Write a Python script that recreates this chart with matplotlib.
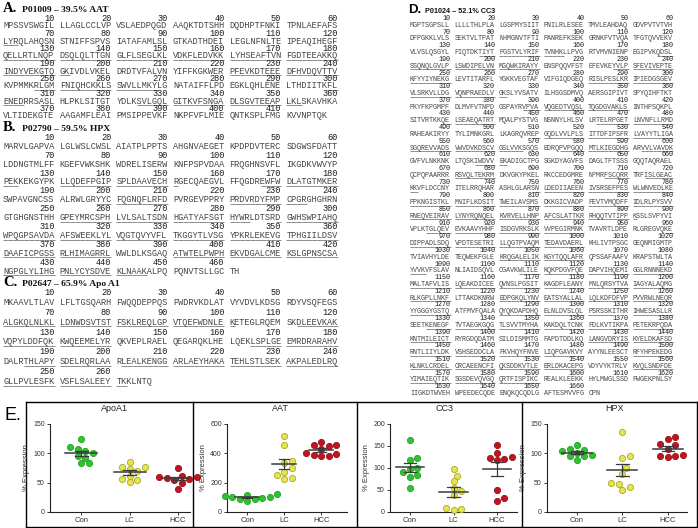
import matplotlib
matplotlib.use('Agg')
import matplotlib.pyplot as plt
import numpy as np

# ---------------- data: sequences (rows of 60 residues) ----------------
aat_rows = [
    "MPSSVSWGILLLAGLCCLVPVSLAEDPQGDAAQKTDTSHHDQDHPTFNKITPNLAEFAFS",
    "LYRQLAHQSNSTNIFFSPVSIATAFAMLSLGTKADTHDEILEGLNFNLTEIPEAQIHEGF",
    "QELLRTLNQPDSQLQLTTGNGLFLSEGLKLVDKFLEDVKKLYHSEAFTVNFGDTEEAKKQ",
    "INDYVEKGTQGKIVDLVKELDRDTVFALVNYIFFKGKWERPFEVKDTEEEDFHVDQVTTV",
    "KVPMMKRLGMFNIQHCKKLSSWVLLMKYLGNATAIFFLPDEGKLQHLENELTHDIITKFL",
    "ENEDRRSASLHLPKLSITGTYDLKSVLGQLGITKVFSNGADLSGVTEEAPLKLSKAVHKA",
    "VLTIDEKGTEAAGAMFLEAIPMSIPPEVKFNKPFVFLMIEQNTKSPLFMGKVVNPTQK",
]
hpx_rows = [
    "MARVLGAPVALGLWSLCWSLAIATPLPPTSAHGNVAEGETKPDPDVTERCSDGWSFDATT",
    "LDDNGTMLFFKGEFVWKSHKWDRELISERWKNFPSPVDAAFRQGHNSVFLIKGDKVWVYP",
    "PEKKEKGYPKLLQDEFPGIPSPLDAAVECHRGECQAEGVLFFQGDREWFWDLATGTMKER",
    "SWPAVGNCSSALRWLGRYYCFQGNQFLRFDPVRGEVPPRYPRDVRDYFMPCPGRGHGHRN",
    "GTGHGNSTHHGPEYMRCSPHLVLSALTSDNHGATYAFSGTHYWRLDTSRDGWHSWPIAHQ",
    "WPQGPSAVDAAFSWEEKLYLVQGTQVYVFLTKGGYTLVSGYPKRLEKEVGTPHGIILDSV",
    "DAAFICPGSSRLHIMAGRRLWWLDLKSGAQATWTELPWPHEKVDGALCMEKSLGPNSCSA",
    "NGPGLYLIHGPNLYCYSDVEKLNAAKALPQPQNVTSLLGCTH",
]
apoa1_rows = [
    "MKAAVLTLAVLFLTGSQARHFWQQDEPPQSPWDRVKDLATVYVDVLKDSGRDYVSQFEGS",
    "ALGKQLNLKLLDNWDSVTSTFSKLREQLGPVTQEFWDNLEKETEGLRQEMSKDLEEVKAK",
    "VQPYLDDFQKKWQEEMELYRQKVEPLRAELQEGARQKLHELQEKLSPLGEEMRDRARAHV",
    "DALRTHLAPYSDELRQRLAARLEALKENGGARLAEYHAKATEHLSTLSEKAKPALEDLRQ",
    "GLLPVLESFKVSFLSALEEYTKKLNTQ",
]
c3_rows = [
    "MGPTSGPSLLLLLLTHLPLALGSPMYSIITPNILRLESEETMVLEAHDAQGDVPVTVTVH",
    "DFPGKKLVLSSEKTVLTPATNHMGNVTFTIPANREFKSEKGRNKFVTVQATFGTQVVEKV",
    "VLVSLQSGYLFIQTDKTIYTPGSTVLYRIFTVNHKLLPVGRTVMVNIENPEGIPVKQDSL",
    "SSQNQLGVLPLSWDIPELVNMGQWKIRAYYENSPQQVFSTEFEVKEYVLPSFEVIVEPTE",
    "KFYYIYNEKGLEVTITARFLYGKKVEGTAFVIFGIQDGEQRISLPESLKRIPIEDGSGEV",
    "VLSRKVLLDGVQNPRAEDLVGKSLYVSATVILHSGSDMVQAERSGIPIVTSPYQIHFTKT",
    "PKYFKPGMPFDLMVFVTNPDGSPAYRVPVAVQGEDTVQSLTQGDGVAKLSINTHPSQKPL",
    "SITVRTKKQELSEAEQATRTMQALPYSTVGNSNNYLHLSVLRTELRPGETLNVNFLLRMD",
    "RAHEAKIRYYTYLIMNKGRLLKAGRQVREPGQDLVVLPLSITTDFIPSFRLVAYYTLIGA",
    "SGQREVVADSVWVDVKDSCVGSLVVKSGQSEDRQPVPGQQMTLKIEGDHGARVVLVAVDK",
    "GVFVLNKKNKLTQSKIWDVVEKADIGCTPGSGKDYAGVFSDAGLTFTSSSGQQTAQRAEL",
    "QCPQPAARRRRSVQLTEKRMDKVGKYPKELRKCCEDGMRENPMRFSCQRRTRFISLGEAC",
    "KKVFLDCCNYITELRRQHARASHLGLARSNLDEDIIAEENIVSRSEFPESWLWNVEDLKE",
    "PPKNGISTKLMNIFLKDSITTWEILAVSMSDKKGICVADPFEVTVMQDFFIDLRLPYSVV",
    "RNEQVEIRAVLYNYRQNQELKVRVELLHNPAFCSLATTKRRHQQTVTIPPKSSLSVPYVI",
    "VPLKTGLQEVEVKAAVYHHFISDGVRKSLKVVPEGIRMNKTVAVRTLDPERLGREGVQKE",
    "DIPPADLSDQVPDTESETRILLQGTPVAQMTEDAVDAERLKHLIVTPSGCGEQNMIGMTP",
    "TVIAVHYLDETEQWEKFGLEKRQGALELIKKGYTQQLAFRQPSSAFAAFVKRAPSTWLTA",
    "YVVKVFSLAVNLIAIDSQVLCGAVKWLILEKQKPDGVFQEDAPVIHQEMIGGLRNNNEKD",
    "MALTAFVLISLQEAKDICEEQVNSLPGSITKAGDFLEANYMNLQRSYTVAIAGYALAQMG",
    "RLKGPLLNKFLTTAKDKNRWEDPGKQLYNVEATSYALLALLQLKDFDFVPPVVRWLNEQR",
    "YYGGGYGSTQATFMVFQALAQYQKDAPDHQELNLDVSLQLPSRSSKITHRIHWESASLLR",
    "SEETKENEGFTVTAEGKGQGTLSVVTMYHAKAKDQLTCNKFDLKVTIKPAPETEKRPQDA",
    "KNTMILEICTRYRGDQDATMSILDISMMTGFAPDTDDLKQLANGVDRYISKYELDKAFSD",
    "RNTLIIYLDKVSHSEDDCLAFKVHQYFNVELIQPGAVKVYAYYNLEESCTRFYHPEKEDG",
    "KLNKLCRDELCRCAEENCFIQKSDDKVTLEERLDKACEPGVDYVYKTRLVKVQLSNDFDE",
    "YIMAIEQTIKSGSDEVQVGQQRTFISPIKCREALKLEEKKHYLMWGLSSDFWGEKPNLSY",
    "IIGKDTWVEHWPEEDECQDEENQKQCQDLGAFTESMVVFGCPN",
]

# covered (underlined) residue ranges, 1-based inclusive
aat_cov = [(61, 63), (121, 192), (221, 240), (247, 268), (299, 304),
           (325, 353)]
hpx_cov = [(121, 123), (131, 151), (167, 180), (198, 210), (221, 234),
           (251, 284), (290, 347), (348, 380), (391, 446)]
apoa1_cov = [(61, 101), (113, 140), (165, 180), (185, 200), (202, 262)]
c3_cov = [(137, 155), (177, 210), (227, 250), (281, 322), (387, 410),
          (429, 440), (463, 480), (509, 566), (575, 590), (593, 600),
          (616, 622), (671, 680), (705, 710), (714, 722), (749, 891),
          (905, 940), (959, 1000), (1041, 1060), (1081, 1084),
          (1106, 1210), (1221, 1270), (1281, 1306), (1311, 1320),
          (1325, 1390), (1421, 1480), (1491, 1540), (1551, 1590)]

# ---------------- data: expression scatter plots ----------------
groups = ["Con", "LC", "HCC"]
apoa1_con = [124, 110, 107, 104, 100, 96, 92, 83, 83]
apoa1_lc = [85, 77, 76, 74, 70, 62, 57, 54, 51]
apoa1_hcc = [75, 62, 60, 59, 58, 57, 55, 50, 40]
aat_con = [120, 115, 110, 105, 100, 95, 92, 88, 72]
aat_lc = [520, 455, 350, 335, 300, 270, 250, 235, 225]
aat_hcc = [480, 460, 455, 450, 430, 405, 395, 390, 385, 380]
cc3_con = [163, 122, 119, 100, 97, 90, 85, 80, 55]
cc3_lc = [98, 82, 70, 55, 48, 38, 10, 6, 5]
cc3_hcc = [152, 135, 125, 122, 120, 118, 50, 32, 25]
hpx_con = [114, 108, 106, 104, 100, 98, 96, 95, 88]
hpx_lc = [137, 95, 92, 75, 65, 50, 48, 42, 38]
hpx_hcc = [127, 125, 116, 114, 108, 97, 96, 95, 94]

W, H = 698, 528
fig = plt.figure(figsize=(W / 100, H / 100), dpi=100)
bg = fig.add_axes([0, 0, 1, 1])
bg.set_xlim(0, W)
bg.set_ylim(H, 0)
bg.axis('off')

MONO = 'Liberation Mono'


def draw_seq(rows, cov, x0, y0, pitch, fs, cw):
    for r, row in enumerate(rows):
        ynum = y0 + 2 * r * pitch
        yseq = ynum + pitch
        for b in range(6):
            blk = row[b * 10:(b + 1) * 10]
            if not blk:
                break
            bx = x0 + b * 11 * cw
            bg.text(bx, yseq, blk, family=MONO, fontsize=fs, color='#454545',
                    ha='left', va='baseline')
            if len(blk) == 10:
                bg.text(bx + 10 * cw, ynum, str(r * 60 + (b + 1) * 10),
                        family=MONO, fontsize=fs, color='#1a1a1a',
                        ha='right', va='baseline')
    for s, e in cov:
        for n in range(s, e + 1):
            r, c = divmod(n - 1, 60)
            if r >= len(rows) or c >= len(rows[r]):
                continue
            b, k = divmod(c, 10)
            xs = x0 + (b * 11 + k) * cw
            yl = y0 + 2 * r * pitch + pitch + 1.6
            bg.plot([xs, xs + cw], [yl, yl], color='#8a8a8a', lw=0.7,
                    solid_capstyle='butt')


def header(x, y, letter, title, serif=True, big=10.5, small=6.8):
    fam = 'Liberation Serif' if serif else 'Liberation Sans'
    bg.text(x, y, letter, family=fam, fontsize=big, fontweight='bold',
            ha='left', va='baseline', color='black')
    bg.text(x + (19 if serif else 17), y, title, family=fam, fontsize=small,
            fontweight='bold', ha='left', va='baseline', color='#111111')


# ---- left column panels A, B, C ----
cwL = 5.15
fsL = cwL / 0.6 * 0.72
xL = 3

header(xL, 12, "A.", "P01009 \u2013 39.5% AAT")
draw_seq(aat_rows, aat_cov, xL, 21, 7.5, fsL, cwL)
header(xL, 131, "B.", "P02790 \u2013 59.5% HPX")
draw_seq(hpx_rows, hpx_cov, xL, 140, 8.9, fsL, cwL)
header(xL, 286, "C.", "P02647 \u2013 65.9% Apo A1")
draw_seq(apoa1_rows, apoa1_cov, xL, 295, 9.9, fsL, cwL)

# ---- right column panel D ----
cwD = 4.05
fsD = cwD / 0.6 * 0.72
xD = 410
header(xD - 2, 13, "D.", "P01024 \u2013 52.1% CC3", serif=False, big=9.5,
       small=5.2)
draw_seq(c3_rows, c3_cov, xD, 20, 6.82, fsD, cwD)

# ---------------- panel E ----------------
bg.text(4, 420, "E.", family='Liberation Sans', fontsize=13, color='black',
        ha='left', va='baseline')
ftop, fbot = 402, 526.5
dividers = [26, 193, 357, 522, 697]
bg.plot([dividers[0], dividers[-1]], [ftop, ftop], color='black', lw=1.0)
bg.plot([dividers[0], dividers[-1]], [fbot, fbot], color='black', lw=1.0)
for dx in dividers:
    bg.plot([dx, dx], [ftop, fbot], color='black', lw=1.0)

colors = [('#2fc12f', '#25a025'), ('#e6e64a', '#a8a830'), ('#c0141e', '#9a0f18')]

plots = [
    ("ApoA1", [apoa1_con, apoa1_lc, apoa1_hcc], [0, 50, 100, 150], 50, 190, (-0.65, 2.25)),
    ("AAT", [aat_con, aat_lc, aat_hcc], [0, 200, 400, 600], 227, 347, (-0.55, 2.7)),
    ("CC3", [cc3_con, cc3_lc, cc3_hcc], [0, 50, 100, 150, 200], 390, 517, (-0.46, 2.46)),
    ("HPX", [hpx_con, hpx_lc, hpx_hcc], [0, 50, 100, 150], 547, 687, (-0.66, 2.42)),
]
atop, abot = 424, 512
centers = [(26 + 193) / 2, (193 + 357) / 2, (357 + 522) / 2, (522 + 697) / 2]


def swarm(vals, ypu, xpu, d):
    vals = np.asarray(vals, float)
    offs = np.zeros(len(vals))
    placed = []
    cands = [0.0] + [s * j * 0.6 * d for j in range(1, 12) for s in (1, -1)]
    for i in np.argsort(vals):
        y = vals[i] * ypu
        for c in cands:
            if all((c - px) ** 2 + (y - py) ** 2 >= d ** 2
                   for px, py in placed):
                break
        placed.append((c, y))
        offs[i] = c / xpu
    return offs


for (title, data, ticks, xl, xr, xlim), cx in zip(plots, centers):
    ax = fig.add_axes([xl / W, (H - abot) / H, (xr - xl) / W, (abot - atop) / H])
    ax.set_xlim(*xlim)
    ax.set_ylim(0, ticks[-1])
    ypu = (abot - atop) / ticks[-1]
    xpu = (xr - xl) / (xlim[1] - xlim[0])
    for g, vals in enumerate(data):
        offs = swarm(vals, ypu, xpu, 6.2)
        fc, ec = colors[g]
        ax.scatter(g + offs, vals, s=20, color=fc, edgecolors=ec,
                   linewidths=0.6, zorder=3, clip_on=False)
        m = np.mean(vals)
        se = np.std(vals, ddof=1) / np.sqrt(len(vals))
        ax.plot([g - 0.33, g + 0.33], [m, m], color='#3a3a3a', lw=1.1, zorder=4)
        ax.plot([g, g], [m - se, m + se], color='#3a3a3a', lw=0.9, zorder=4)
        for yy in (m - se, m + se):
            ax.plot([g - 0.14, g + 0.14], [yy, yy], color='#3a3a3a', lw=0.9,
                    zorder=4)
    ax.set_xticks(range(3))
    ax.set_xticklabels(groups, family='Liberation Sans', fontsize=5.5,
                       color='#333333')
    ax.set_yticks(ticks)
    ax.set_yticklabels([str(t) for t in ticks], family='Liberation Sans',
                       fontsize=5, color='#333333')
    ax.tick_params(axis='both', length=2.2, width=0.7, pad=1.5,
                   colors='#333333')
    ax.set_ylabel("% Expression", family='Liberation Sans', fontsize=5.5,
                  color='#333333', labelpad=2)
    for sp in ('top', 'right'):
        ax.spines[sp].set_visible(False)
    for sp in ('left', 'bottom'):
        ax.spines[sp].set_linewidth(0.8)
        ax.spines[sp].set_color('#222222')
    ax.patch.set_alpha(0)
    bg.text(cx + 5, 411, title, family='Liberation Sans', fontsize=6.5,
            color='#222222', ha='center', va='baseline')

fig.savefig('out.png', dpi=100)
